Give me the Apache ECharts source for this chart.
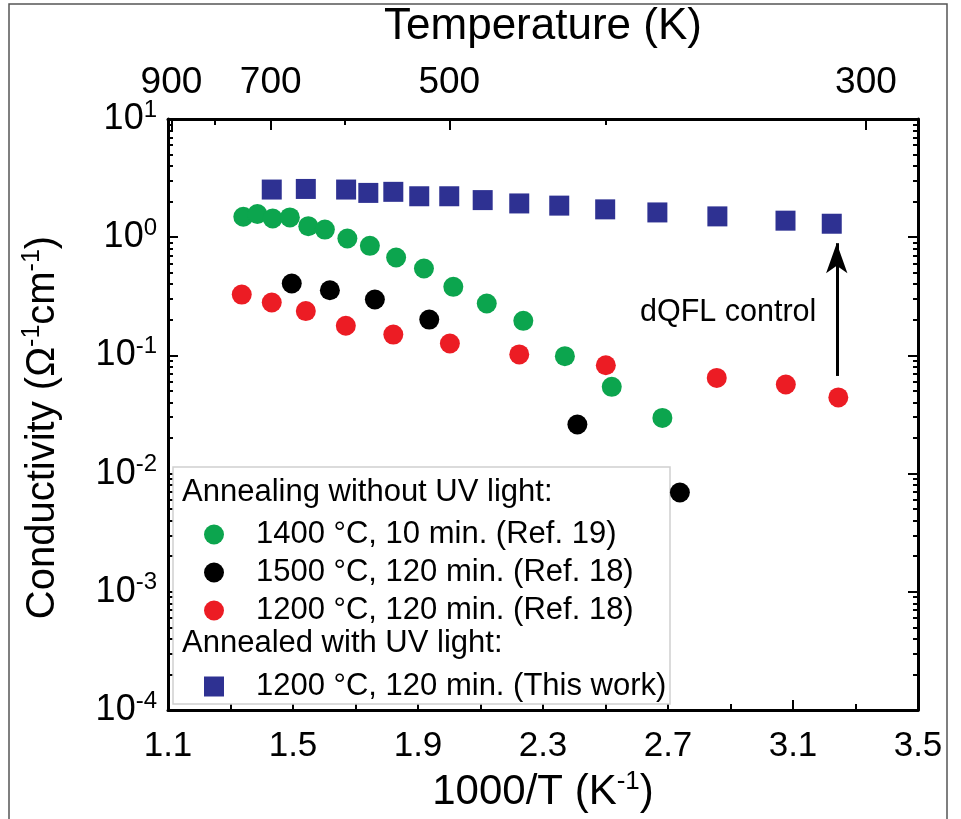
<!DOCTYPE html>
<html>
<head>
<meta charset="utf-8">
<script src="https://cdn.jsdelivr.net/npm/echarts@6/dist/echarts.min.js"></script>
<style>
html, body { margin: 0; padding: 0; background: #fff; }
#chart { width: 961px; height: 819px; }
</style>
</head>
<body>
<div id="chart"></div>
<script>
// 1000/T values and conductivity
var greenX = [1.341, 1.386, 1.435, 1.490, 1.549, 1.602, 1.674, 1.746, 1.830, 1.919, 2.013, 2.120, 2.237, 2.370, 2.520, 2.682];
var greenY = [1.49, 1.57, 1.44, 1.47, 1.24, 1.16, 0.975, 0.845, 0.673, 0.543, 0.380, 0.275, 0.196, 0.0985, 0.0542, 0.0296];

var blackX = [1.496, 1.618, 1.762, 1.936, 2.410, 2.738];
var blackY = [0.406, 0.356, 0.297, 0.201, 0.026, 0.00692];

var redX = [1.336, 1.432, 1.541, 1.669, 1.821, 2.002, 2.224, 2.501, 2.856, 3.077, 3.245];
var redY = [0.327, 0.280, 0.237, 0.178, 0.150, 0.126, 0.102, 0.0826, 0.0645, 0.0567, 0.0441];

var blueX = [1.432, 1.541, 1.670, 1.741, 1.821, 1.904, 2.000, 2.107, 2.224, 2.352, 2.499, 2.666, 2.858, 3.076, 3.224];
var blueY = [2.53, 2.56, 2.53, 2.37, 2.42, 2.22, 2.22, 2.06, 1.93, 1.85, 1.72, 1.62, 1.50, 1.38, 1.30];

var seriesNames = ['1400 °C, 10 min. (Ref. 19)', '1500 °C, 120 min. (Ref. 18)', '1200 °C, 120 min. (Ref. 18)', '1200 °C, 120 min. (This work)'];

// top axis (temperature in K)
var tempLabels = [900, 700, 500, 300];
var tempMinor = [800, 600, 400];

// y decades
var yDecades = [0.0001, 0.001, 0.01, 0.1, 1, 10];

// arrow "dQFL control"
var arrowX = 3.24;
var arrowFrom = 0.067;
var arrowTo = 0.89;

function pairs(xs, ys) {
    var out = [];
    for (var i = 0; i < xs.length; i++) {
        out.push([xs[i], ys[i]]);
    }
    return out;
}

var yMinor = [];
for (var e = -4; e < 1; e++) {
    for (var m = 2; m < 10; m++) {
        yMinor.push(m * Math.pow(10, e));
    }
}

var font = 'Liberation Sans, Arial, sans-serif';
var black = '#000';

var myChart = echarts.init(document.getElementById('chart'));

function yAxisBase(pos, major) {
    return {
        type: 'log',
        logBase: 10,
        min: 0.0001,
        max: 10,
        position: pos,
        axisLine: { show: major, lineStyle: { color: black, width: 3 } },
        axisTick: {
            show: true,
            inside: true,
            length: major ? 10 : 5,
            customValues: major ? yDecades : yMinor,
            lineStyle: { color: black, width: 2 }
        },
        axisLabel: { show: false },
        splitLine: { show: false },
        minorTick: { show: false }
    };
}

var yLeft = yAxisBase('left', true);
yLeft.axisLabel = {
    show: true,
    margin: 11,
    customValues: yDecades,
    formatter: function (v) {
        return '{b|10}{s|' + Math.round(Math.log10(v)) + '}';
    },
    rich: {
        b: { fontSize: 36, fontFamily: font, color: black, lineHeight: 42 },
        s: { fontSize: 24, fontFamily: font, color: black, verticalAlign: 'top', lineHeight: 24 }
    }
};
yLeft.name = 'Conductivity (Ω{s|-1}cm{s|-1})';
yLeft.nameLocation = 'middle';
yLeft.nameGap = 102;
yLeft.nameTextStyle = {
    fontSize: 40, fontFamily: font, color: black, lineHeight: 46,
    padding: [0, 26, 0, 0],
    rich: {
        s: { fontSize: 25, fontFamily: font, color: black, verticalAlign: 'top', lineHeight: 25 }
    }
};

var option = {
    animation: false,
    backgroundColor: '#fff',
    textStyle: { fontFamily: font },
    grid: {
        left: 168,
        right: 43,
        top: 119,
        bottom: 109,
        containLabel: false,
        outerBoundsMode: 'none'
    },
    xAxis: [
        {
            type: 'value',
            min: 1.1,
            max: 3.5,
            interval: 0.4,
            position: 'bottom',
            axisLine: { lineStyle: { color: black, width: 3 } },
            axisTick: { inside: true, length: 10, lineStyle: { color: black, width: 2 } },
            minorTick: { show: true, splitNumber: 2, length: 6, lineStyle: { color: black, width: 2 } },
            axisLabel: {
                margin: 19,
                fontSize: 35,
                fontFamily: font,
                color: black,
                formatter: function (v) { return v.toFixed(1); }
            },
            splitLine: { show: false },
            name: '1000/T (K{s|-1})',
            nameLocation: 'middle',
            nameGap: 58,
            nameTextStyle: {
                fontSize: 42, fontFamily: font, color: black, lineHeight: 48,
                rich: { s: { fontSize: 26, fontFamily: font, color: black, verticalAlign: 'top', lineHeight: 26 } }
            }
        },
        {
            type: 'value',
            min: 1.1,
            max: 3.5,
            position: 'top',
            axisLine: { lineStyle: { color: black, width: 3 } },
            axisTick: {
                inside: true,
                length: 11,
                customValues: tempLabels.map(function (t) { return 1000 / t; }),
                lineStyle: { color: black, width: 2 }
            },
            axisLabel: {
                margin: 18,
                fontSize: 37,
                fontFamily: font,
                color: black,
                customValues: tempLabels.map(function (t) { return 1000 / t; }),
                formatter: function (v) { return String(Math.round(1000 / v)); }
            },
            splitLine: { show: false },
            name: 'Temperature (K)',
            nameLocation: 'middle',
            nameGap: 70,
            nameTextStyle: { fontSize: 44, fontFamily: font, color: black }
        },
        {
            type: 'value',
            min: 1.1,
            max: 3.5,
            position: 'top',
            axisLine: { show: false },
            axisTick: {
                inside: true,
                length: 6,
                customValues: tempMinor.map(function (t) { return 1000 / t; }),
                lineStyle: { color: black, width: 2 }
            },
            axisLabel: { show: false },
            splitLine: { show: false }
        }
    ],
    yAxis: [yLeft, yAxisBase('left', false), yAxisBase('right', true), yAxisBase('right', false)],
    legend: [
        {
            orient: 'vertical',
            left: 199,
            top: 514,
            itemWidth: 20,
            itemHeight: 20,
            itemGap: 7,
            data: seriesNames.slice(0, 3),
            textStyle: { fontSize: 31, fontFamily: font, color: black, lineHeight: 31, padding: [0, 0, 0, 27] }
        },
        {
            orient: 'vertical',
            left: 199,
            top: 666,
            itemWidth: 20,
            itemHeight: 20,
            data: seriesNames.slice(3),
            textStyle: { fontSize: 31, fontFamily: font, color: black, lineHeight: 31, padding: [0, 0, 0, 27] }
        }
    ],
    graphic: [
        {
            type: 'rect',
            z: -10,
            shape: { x: 9, y: 4, width: 938, height: 840 },
            style: { fill: '#fff', stroke: '#555', lineWidth: 1.5 }
        },
        {
            type: 'rect',
            z: 1,
            shape: { x: 173, y: 467, width: 497, height: 237 },
            style: { fill: '#fff', stroke: '#d0d0d0', lineWidth: 1.5 }
        },
        {
            type: 'text',
            z: 2,
            left: 182,
            top: 477,
            style: { text: 'Annealing without UV light:', fontSize: 31, fontFamily: font, fill: black }
        },
        {
            type: 'text',
            z: 2,
            left: 182,
            top: 628,
            style: { text: 'Annealed with UV light:', fontSize: 31, fontFamily: font, fill: black }
        },
        {
            type: 'text',
            z: 2,
            left: 640,
            top: 297,
            style: { text: 'dQFL control', fontSize: 30.5, fontFamily: font, fill: black }
        }
    ],
    series: [
        {
            name: seriesNames[2],
            type: 'scatter',
            symbol: 'circle',
            symbolSize: 20,
            itemStyle: { color: '#ec1c24', opacity: 1 },
            data: pairs(redX, redY),
            markLine: {
                silent: true,
                symbol: ['none', 'arrow'],
                symbolSize: [16, 30],
                label: { show: false },
                lineStyle: { color: black, width: 3, type: 'solid' },
                data: [[{ coord: [arrowX, arrowFrom] }, { coord: [arrowX, arrowTo] }]]
            }
        },
        {
            name: seriesNames[1],
            type: 'scatter',
            symbol: 'circle',
            symbolSize: 20,
            itemStyle: { color: '#000', opacity: 1 },
            data: pairs(blackX, blackY)
        },
        {
            name: seriesNames[0],
            type: 'scatter',
            symbol: 'circle',
            symbolSize: 20,
            itemStyle: { color: '#0ca54e', opacity: 1 },
            data: pairs(greenX, greenY)
        },
        {
            name: seriesNames[3],
            type: 'scatter',
            symbol: 'rect',
            symbolSize: 20,
            itemStyle: { color: '#2e3192', opacity: 1 },
            data: pairs(blueX, blueY)
        }
    ]
};

myChart.setOption(option);
</script>
</body>
</html>
